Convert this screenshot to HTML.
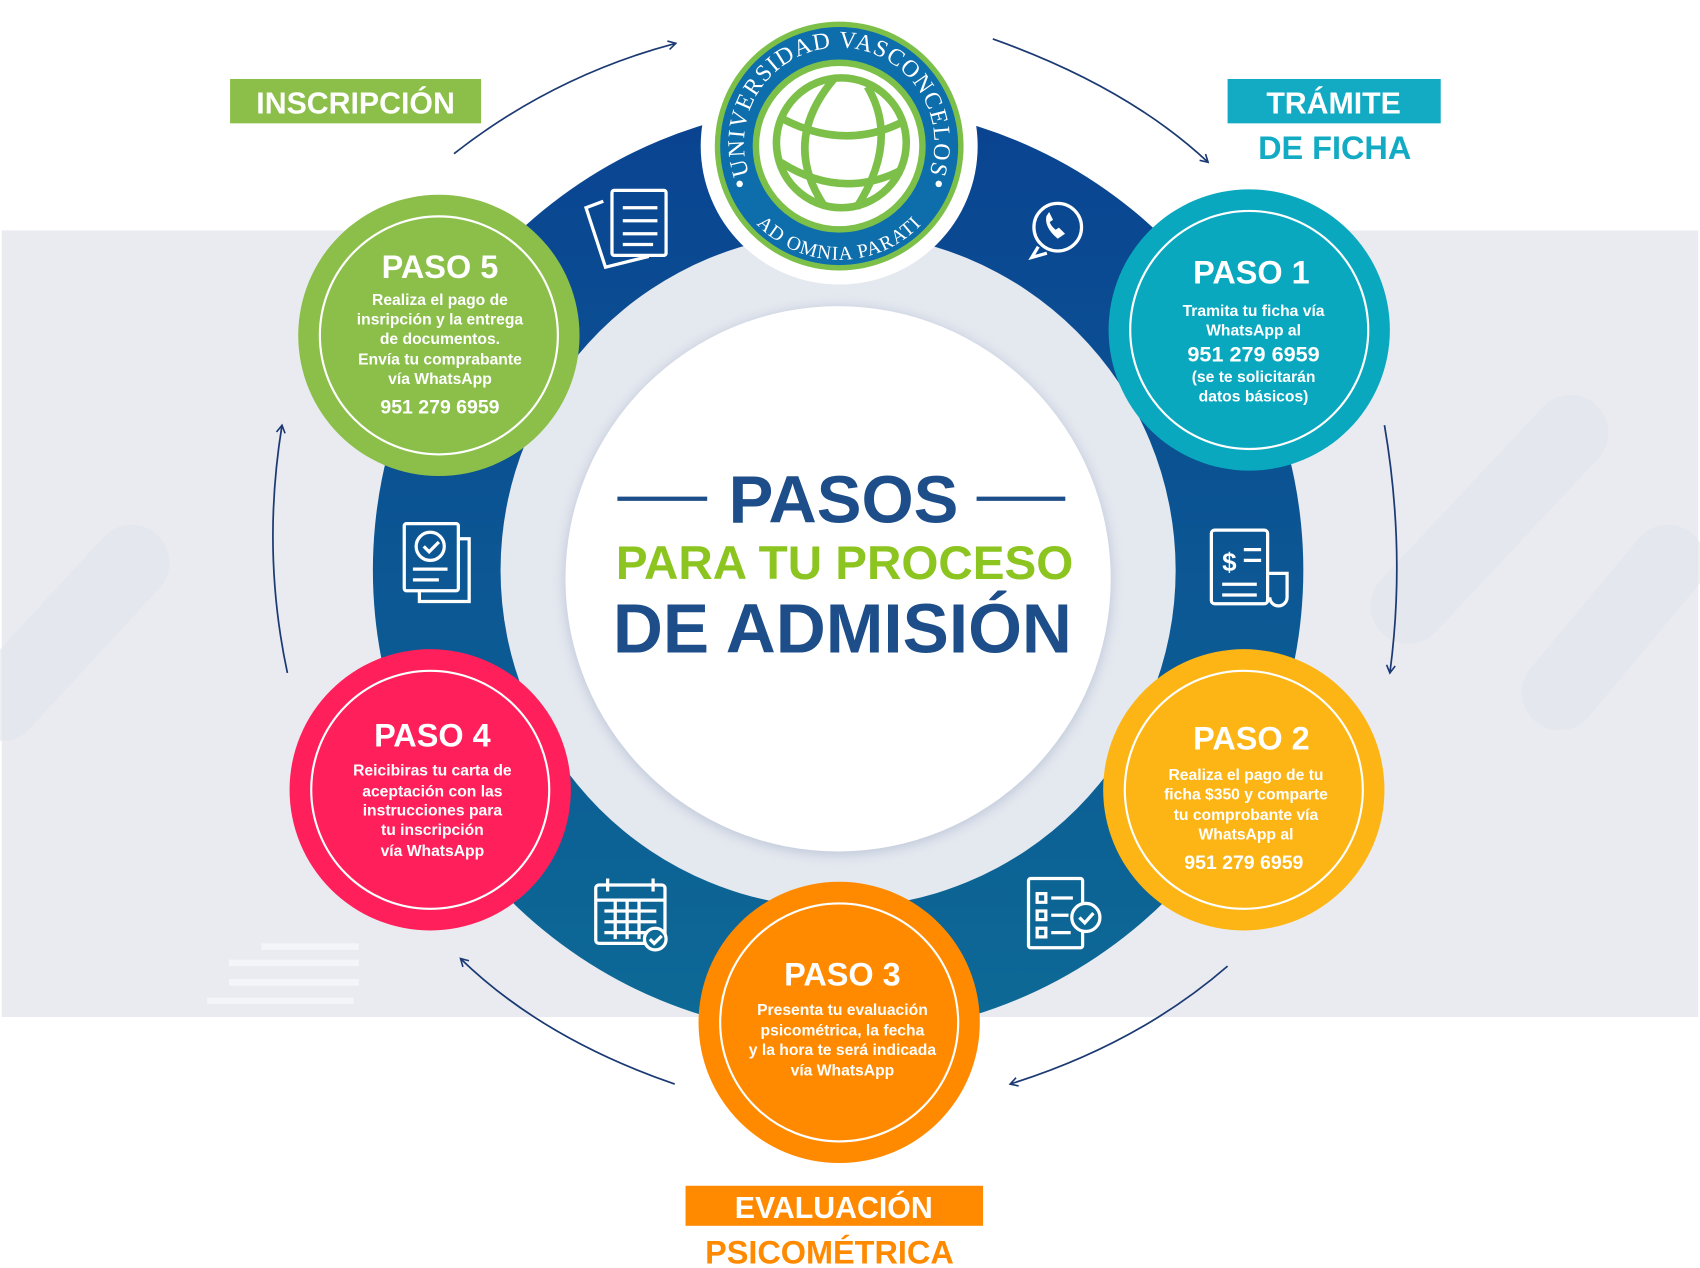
<!DOCTYPE html>
<html><head><meta charset="utf-8"><style>
html,body{margin:0;padding:0;background:#fff;}
svg{display:block;}
text{font-family:"Liberation Sans",sans-serif;font-weight:bold;}
</style></head><body>
<svg width="1700" height="1268" viewBox="0 0 1568 1172" xmlns="http://www.w3.org/2000/svg">
<defs>
<linearGradient id="ring" x1="0" y1="0" x2="0" y2="1">
<stop offset="0" stop-color="#0a4391"/><stop offset="1" stop-color="#0d6a96"/></linearGradient>
<marker id="ar" markerWidth="10" markerHeight="10" refX="8" refY="5" orient="auto" markerUnits="userSpaceOnUse">
<path d="M1,1 L8,5 L1,9" fill="none" stroke="#1b3a73" stroke-width="1.5"/></marker>
<filter id="sh" x="-20%" y="-20%" width="140%" height="140%"><feGaussianBlur stdDeviation="6"/></filter>
<path id="topArc" d="M699,178 A88,88 0 1 1 849,178"/>
<path id="botArc" d="M672,160 A105,105 0 0 0 876,160"/>
</defs>
<rect x="0" y="0" width="1568" height="1172" fill="#fff"/>
<rect x="0" y="213" width="1568" height="727" fill="#e9ebf1"/>
<g stroke="#e2e5ec" stroke-width="70" stroke-linecap="round" opacity="0.6">
<line x1="120" y1="520" x2="0" y2="650"/><line x1="1450" y1="400" x2="1300" y2="560"/><line x1="1540" y1="520" x2="1440" y2="640"/>
</g>
<g stroke="#f4f5f8" stroke-width="6"><line x1="240" y1="875" x2="330" y2="875"/><line x1="210" y1="890" x2="330" y2="890"/><line x1="210" y1="908" x2="330" y2="908"/><line x1="190" y1="925" x2="325" y2="925"/></g>
<g fill="none" stroke="#1b3a73" stroke-width="1.6" marker-end="url(#ar)">
<path d="M418,142 Q510,70 623,40"/>
<path d="M916,36 Q1040,80 1115,150"/>
<path d="M1278,393 Q1298,510 1283,622"/>
<path d="M1133,893 Q1050,965 932,1002"/>
<path d="M622,1002 Q500,960 424,886"/>
<path d="M264,622 Q240,510 259,393"/>
</g>
<circle cx="773" cy="527" r="430" fill="url(#ring)"/>
<circle cx="773" cy="527" r="312" fill="#e4e8ef"/>
<circle cx="773" cy="537" r="252" fill="#b9c3d6" filter="url(#sh)"/>
<circle cx="773" cy="535" r="252" fill="#fff"/>
<line x1="569" y1="461" x2="652" y2="461" stroke="#1d4e89" stroke-width="4"/>
<line x1="901" y1="461" x2="983" y2="461" stroke="#1d4e89" stroke-width="4"/>
<text x="778" y="483" text-anchor="middle" font-size="62" fill="#1d4e89">PASOS</text>
<text x="779" y="535" text-anchor="middle" font-size="44" fill="#8cc420">PARA TU PROCESO</text>
<text x="777" y="603" text-anchor="middle" font-size="64" fill="#1d4e89">DE ADMISIÓN</text>
<circle cx="774" cy="135" r="128" fill="#fff"/>
<circle cx="774" cy="135" r="115" fill="#7cc04a"/>
<circle cx="774" cy="135" r="110" fill="#0e6eac"/>
<circle cx="774" cy="135" r="80" fill="#7cc04a"/>
<circle cx="774" cy="135" r="74" fill="#fff"/>
<text font-size="22" fill="#fff" style="font-family:'Liberation Serif',serif;font-weight:normal" letter-spacing="1"><textPath href="#topArc" startOffset="50%" text-anchor="middle">UNIVERSIDAD VASCONCELOS</textPath></text>
<text font-size="18" fill="#fff" style="font-family:'Liberation Serif',serif;font-weight:normal" letter-spacing="1"><textPath href="#botArc" startOffset="50%" text-anchor="middle">AD OMNIA PARATI</textPath></text>
<circle cx="682" cy="170" r="3" fill="#fff"/><circle cx="866" cy="170" r="3" fill="#fff"/>
<g fill="none" stroke="#7cc04a" stroke-width="7">
<circle cx="776" cy="132" r="60"/>
<path d="M722,110 Q780,140 834,112"/><path d="M720,150 Q775,185 830,158"/>
<path d="M770,72 Q720,130 760,190"/><path d="M800,80 Q830,130 790,192"/>
</g>
<g fill="none" stroke="#fff" stroke-width="3">
<rect x="564" y="176" width="50" height="60" rx="2"/><path d="M574,192h32M574,204h32M574,216h32M574,226h28"/>
<path d="M556,186 l-16,6 l18,55 l40,-10"/>
<circle cx="976" cy="210" r="22"/><path d="M958,228 l-6,10 l14,-4"/>
<path d="M966,200 q-2,10 10,20 l6,-4 l-5,-5 l-3,2 q-5,-4 -6,-8 l3,-2 l-3,-6z" fill="#fff" stroke-width="1"/>
<rect x="1118" y="490" width="52" height="68" rx="3"/><path d="M1170,530h18v22a8,8 0 0 1 -16,0"/><path d="M1128,540h32M1128,550h32"/><text x="1128" y="528" font-size="24" fill="#fff" stroke="none">$</text><path d="M1148,508h16M1148,518h16"/>
<rect x="372" y="484" width="50" height="62" rx="2"/><circle cx="396" cy="505" r="13"/><path d="M390,505l5,5l9,-9M380,526h32M380,536h24"/><path d="M422,498h10v58h-46v-10"/>
<rect x="549" y="818" width="64" height="54" rx="3"/><path d="M549,832h64M560,812v12M602,812v12M557,842h48M557,852h48M557,862h40M567,832v36M578,832v36M589,832v36"/><circle cx="604" cy="868" r="10" fill="#0d6a96"/><path d="M599,868l4,4l7,-7"/>
<rect x="949" y="812" width="50" height="64" rx="2"/><path d="M957,826h8v8h-8zM957,842h8v8h-8zM957,858h8v8h-8zM970,830h20M970,846h16M970,862h18"/><circle cx="1002" cy="848" r="13" fill="#0d6a96"/><path d="M996,848l5,5l8,-9"/>
</g>
<g>
<circle cx="1153" cy="305" r="130" fill="#0aa8bf"/><circle cx="1153" cy="305" r="110" fill="none" stroke="#fff" stroke-width="2"/>
<circle cx="1148" cy="730" r="130" fill="#fdb515"/><circle cx="1148" cy="730" r="110" fill="none" stroke="#fff" stroke-width="2"/>
<circle cx="774" cy="945" r="130" fill="#ff8a00"/><circle cx="774" cy="945" r="110" fill="none" stroke="#fff" stroke-width="2"/>
<circle cx="396" cy="730" r="130" fill="#ff1f5a"/><circle cx="396" cy="730" r="110" fill="none" stroke="#fff" stroke-width="2"/>
<circle cx="404" cy="310" r="130" fill="#8bbf4a"/><circle cx="404" cy="310" r="110" fill="none" stroke="#fff" stroke-width="2"/>
</g>
<g fill="#fff" text-anchor="middle">
<text x="1155" y="262" font-size="30">PASO 1</text>
<text x="1157" y="292" font-size="14.5">Tramita tu ficha vía</text>
<text x="1157" y="310" font-size="14.5">WhatsApp al</text>
<text x="1157" y="334" font-size="20">951 279 6959</text>
<text x="1157" y="353" font-size="14.5">(se te solicitarán</text>
<text x="1157" y="371" font-size="14.5">datos básicos)</text>
<text x="1155" y="693" font-size="30">PASO 2</text>
<text x="1150" y="721" font-size="14.5">Realiza el pago de tu</text>
<text x="1150" y="739" font-size="14.5">ficha $350 y comparte</text>
<text x="1150" y="758" font-size="14.5">tu comprobante  vía</text>
<text x="1150" y="776" font-size="14.5">WhatsApp al</text>
<text x="1148" y="803" font-size="18">951 279 6959</text>
<text x="777" y="911" font-size="30">PASO 3</text>
<text x="777" y="938" font-size="14.5">Presenta tu evaluación</text>
<text x="777" y="957" font-size="14.5">psicométrica, la fecha</text>
<text x="777" y="975" font-size="14.5">y la hora te será indicada</text>
<text x="777" y="994" font-size="14.5">vía WhatsApp</text>
<text x="398" y="690" font-size="30">PASO 4</text>
<text x="398" y="717" font-size="14.5">Reicibiras tu carta de</text>
<text x="398" y="736" font-size="14.5">aceptación con las</text>
<text x="398" y="754" font-size="14.5">instrucciones para</text>
<text x="398" y="772" font-size="14.5">tu inscripción</text>
<text x="398" y="791" font-size="14.5">vía WhatsApp</text>
<text x="405" y="257" font-size="30">PASO 5</text>
<text x="405" y="282" font-size="14.5">Realiza el pago de</text>
<text x="405" y="300" font-size="14.5">insripción y la entrega</text>
<text x="405" y="318" font-size="14.5">de documentos.</text>
<text x="405" y="337" font-size="14.5">Envía tu comprabante</text>
<text x="405" y="355" font-size="14.5">vía WhatsApp</text>
<text x="405" y="382" font-size="18">951 279 6959</text>
</g>
<rect x="211" y="73" width="232" height="41" fill="#8bbf4a"/>
<text x="327" y="105" text-anchor="middle" font-size="28" fill="#fff">INSCRIPCIÓN</text>
<rect x="1133" y="73" width="197" height="41" fill="#13abc4"/>
<text x="1231" y="105" text-anchor="middle" font-size="28" fill="#fff">TRÁMITE</text>
<text x="1232" y="147" text-anchor="middle" font-size="30" fill="#13abc4">DE FICHA</text>
<rect x="632" y="1096" width="275" height="37" fill="#ff8a00"/>
<text x="769" y="1126" text-anchor="middle" font-size="28" fill="#fff">EVALUACIÓN</text>
<text x="765" y="1168" text-anchor="middle" font-size="30" fill="#ff8a00">PSICOMÉTRICA</text>
</svg>
</body></html>
